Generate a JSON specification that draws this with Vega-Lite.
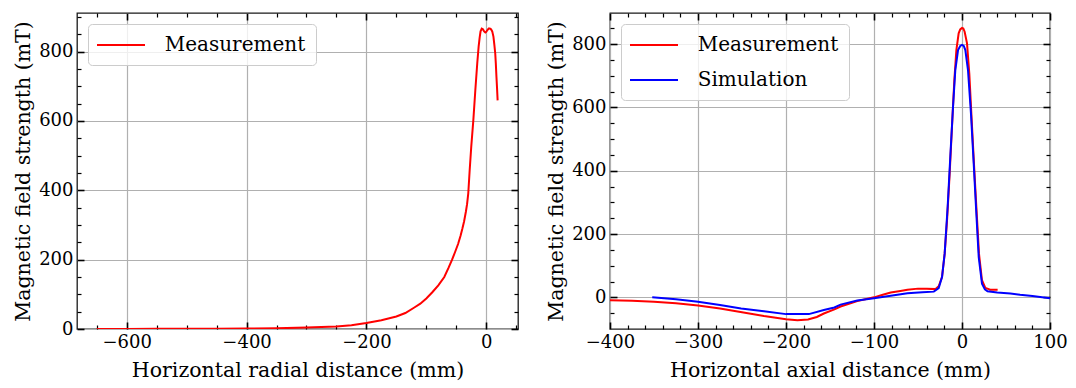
{
  "$schema": "https://vega.github.io/schema/vega-lite/v6.json",
  "padding": {"left": 12, "top": 7, "right": 26, "bottom": 0},
  "spacing": 25,
  "config": {
    "view": {"stroke": "#1a1a1a", "strokeWidth": 1.3},
    "font": "DejaVu Serif",
    "axis": {"domain": false, "labelFlush": false, "labelOverlap": false, "tickColor": "#000", "labelColor": "#000", "titleColor": "#000", "titleFontWeight": "normal", "gridColor": "#b0b0b0", "gridWidth": 1.2, "labelFont": "DejaVu Serif", "labelFontSize": 18, "titleFont": "DejaVu Serif", "titleFontSize": 20.5},
    "legend": {"title": null, "orient": "top-left", "offset": 11, "symbolType": "M-1.2,0H3.6", "symbolSize": 400, "symbolStrokeWidth": 2, "labelFont": "DejaVu Serif", "labelFontSize": 20, "labelColor": "#000", "labelOffset": 44.7, "padding": 10, "rowPadding": 14, "fillColor": "rgba(255,255,255,0.8)", "strokeColor": "#cccccc", "cornerRadius": 4, "labelLimit": 300}
  },
  "resolve": {"scale": {"color": "independent", "x": "independent", "y": "independent"}},
  "hconcat": [
    {
      "width": 441,
      "height": 316,
      "data": {"values": [
        {"x": -650, "y": 0, "series": "Measurement"},
        {"x": -600, "y": 0.3, "series": "Measurement"},
        {"x": -550, "y": 0.5, "series": "Measurement"},
        {"x": -500, "y": 0.7, "series": "Measurement"},
        {"x": -450, "y": 1, "series": "Measurement"},
        {"x": -400, "y": 1.3, "series": "Measurement"},
        {"x": -350, "y": 2.2, "series": "Measurement"},
        {"x": -300, "y": 4, "series": "Measurement"},
        {"x": -275, "y": 5.5, "series": "Measurement"},
        {"x": -250, "y": 7.5, "series": "Measurement"},
        {"x": -225, "y": 11, "series": "Measurement"},
        {"x": -200, "y": 17, "series": "Measurement"},
        {"x": -175, "y": 25, "series": "Measurement"},
        {"x": -150, "y": 36, "series": "Measurement"},
        {"x": -135, "y": 46, "series": "Measurement"},
        {"x": -120, "y": 62, "series": "Measurement"},
        {"x": -110, "y": 73, "series": "Measurement"},
        {"x": -100, "y": 88, "series": "Measurement"},
        {"x": -90, "y": 106, "series": "Measurement"},
        {"x": -80, "y": 126, "series": "Measurement"},
        {"x": -70, "y": 150, "series": "Measurement"},
        {"x": -63, "y": 176, "series": "Measurement"},
        {"x": -57, "y": 200, "series": "Measurement"},
        {"x": -52, "y": 222, "series": "Measurement"},
        {"x": -47, "y": 245, "series": "Measurement"},
        {"x": -43, "y": 268, "series": "Measurement"},
        {"x": -40, "y": 288, "series": "Measurement"},
        {"x": -37, "y": 310, "series": "Measurement"},
        {"x": -34, "y": 338, "series": "Measurement"},
        {"x": -32, "y": 360, "series": "Measurement"},
        {"x": -30, "y": 391, "series": "Measurement"},
        {"x": -27.6, "y": 459, "series": "Measurement"},
        {"x": -25, "y": 526, "series": "Measurement"},
        {"x": -21.5, "y": 603, "series": "Measurement"},
        {"x": -18.2, "y": 689, "series": "Measurement"},
        {"x": -15, "y": 766, "series": "Measurement"},
        {"x": -12.7, "y": 814, "series": "Measurement"},
        {"x": -11, "y": 840, "series": "Measurement"},
        {"x": -9.5, "y": 858, "series": "Measurement"},
        {"x": -7.5, "y": 866, "series": "Measurement"},
        {"x": -5.5, "y": 864, "series": "Measurement"},
        {"x": -3.5, "y": 858, "series": "Measurement"},
        {"x": -1.5, "y": 855, "series": "Measurement"},
        {"x": 0, "y": 857, "series": "Measurement"},
        {"x": 2, "y": 862, "series": "Measurement"},
        {"x": 4, "y": 866, "series": "Measurement"},
        {"x": 6, "y": 866, "series": "Measurement"},
        {"x": 8, "y": 864, "series": "Measurement"},
        {"x": 10, "y": 858, "series": "Measurement"},
        {"x": 12, "y": 843, "series": "Measurement"},
        {"x": 13.5, "y": 820, "series": "Measurement"},
        {"x": 15, "y": 795, "series": "Measurement"},
        {"x": 16, "y": 765, "series": "Measurement"},
        {"x": 17, "y": 728, "series": "Measurement"},
        {"x": 18, "y": 695, "series": "Measurement"},
        {"x": 19, "y": 659, "series": "Measurement"}
      ]},
      "layer": [
        {
          "mark": {"type": "line", "strokeWidth": 2, "clip": true},
          "encoding": {
            "x": {"field": "x", "type": "quantitative", "scale": {"domain": [-683, 53], "nice": false, "zero": false},
              "axis": {"orient": "bottom", "title": "Horizontal radial distance (mm)", "titlePadding": 6, "labelPadding": 11,
                "labelFont": "DejaVu Serif", "labelFontSize": 18,
                "values": [-650, -600, -550, -500, -450, -400, -350, -300, -250, -200, -150, -100, -50, 0, 50],
                "labelExpr": "datum.value % 200 === 0 ? datum.label : ''",
                "tickSize": {"condition": {"test": "datum.value % 200 === 0", "value": -7}, "value": -4},
                "tickWidth": {"condition": {"test": "datum.value % 200 === 0", "value": 1.6}, "value": 1.2},
                "grid": true,
                "gridOpacity": {"condition": {"test": "datum.value % 200 === 0", "value": 1}, "value": 0}}},
            "y": {"field": "y", "type": "quantitative", "scale": {"domain": [0, 911], "nice": false, "zero": false},
              "axis": {"orient": "left", "title": "Magnetic field strength (mT)", "titlePadding": 5, "labelPadding": 11,
                "labelFont": "DejaVu Serif", "labelFontSize": 18,
                "values": [0, 50, 100, 150, 200, 250, 300, 350, 400, 450, 500, 550, 600, 650, 700, 750, 800, 850, 900],
                "labelExpr": "datum.value % 200 === 0 ? datum.label : ''",
                "tickSize": {"condition": {"test": "datum.value % 200 === 0", "value": -7}, "value": -4},
                "tickWidth": {"condition": {"test": "datum.value % 200 === 0", "value": 1.6}, "value": 1.2},
                "grid": true,
                "gridOpacity": {"condition": {"test": "datum.value % 200 === 0", "value": 1}, "value": 0}}},
            "color": {"field": "series", "type": "nominal", "scale": {"domain": ["Measurement"], "range": ["#ff0000"]}}
          }
        },
        {
          "mark": {"type": "line", "opacity": 0},
          "encoding": {
            "x": {"field": "x", "type": "quantitative",
              "axis": {"orient": "top", "title": null, "labels": false, "grid": false,
                "values": [-650, -600, -550, -500, -450, -400, -350, -300, -250, -200, -150, -100, -50, 0, 50],
                "tickSize": {"condition": {"test": "datum.value % 200 === 0", "value": -7}, "value": -4},
                "tickWidth": {"condition": {"test": "datum.value % 200 === 0", "value": 1.6}, "value": 1.2}}},
            "y": {"field": "y", "type": "quantitative",
              "axis": {"orient": "right", "title": null, "labels": false, "grid": false,
                "values": [0, 50, 100, 150, 200, 250, 300, 350, 400, 450, 500, 550, 600, 650, 700, 750, 800, 850, 900],
                "tickSize": {"condition": {"test": "datum.value % 200 === 0", "value": -7}, "value": -4},
                "tickWidth": {"condition": {"test": "datum.value % 200 === 0", "value": 1.6}, "value": 1.2}}}
          }
        }
      ],
      "resolve": {"axis": {"x": "independent", "y": "independent"}}
    },
    {
      "width": 440,
      "height": 316,
      "data": {"values": [
        {"x": -400, "y": -9, "series": "Measurement"},
        {"x": -375, "y": -11, "series": "Measurement"},
        {"x": -350, "y": -14, "series": "Measurement"},
        {"x": -325, "y": -19, "series": "Measurement"},
        {"x": -300, "y": -26, "series": "Measurement"},
        {"x": -275, "y": -35, "series": "Measurement"},
        {"x": -250, "y": -47, "series": "Measurement"},
        {"x": -225, "y": -59, "series": "Measurement"},
        {"x": -200, "y": -69, "series": "Measurement"},
        {"x": -187, "y": -72, "series": "Measurement"},
        {"x": -175, "y": -70, "series": "Measurement"},
        {"x": -165, "y": -62, "series": "Measurement"},
        {"x": -157, "y": -51, "series": "Measurement"},
        {"x": -145, "y": -38, "series": "Measurement"},
        {"x": -138, "y": -29, "series": "Measurement"},
        {"x": -125, "y": -17, "series": "Measurement"},
        {"x": -119, "y": -12, "series": "Measurement"},
        {"x": -110, "y": -6, "series": "Measurement"},
        {"x": -100, "y": 0, "series": "Measurement"},
        {"x": -90, "y": 8, "series": "Measurement"},
        {"x": -81, "y": 15, "series": "Measurement"},
        {"x": -70, "y": 20, "series": "Measurement"},
        {"x": -62, "y": 24, "series": "Measurement"},
        {"x": -50, "y": 27.5, "series": "Measurement"},
        {"x": -40, "y": 27.5, "series": "Measurement"},
        {"x": -30, "y": 26, "series": "Measurement"},
        {"x": -26.5, "y": 35, "series": "Measurement"},
        {"x": -22.7, "y": 64, "series": "Measurement"},
        {"x": -19.7, "y": 138, "series": "Measurement"},
        {"x": -17, "y": 243, "series": "Measurement"},
        {"x": -14, "y": 391, "series": "Measurement"},
        {"x": -11.4, "y": 538, "series": "Measurement"},
        {"x": -8.7, "y": 686, "series": "Measurement"},
        {"x": -6.4, "y": 781, "series": "Measurement"},
        {"x": -3.8, "y": 834, "series": "Measurement"},
        {"x": -2, "y": 846, "series": "Measurement"},
        {"x": 0, "y": 851, "series": "Measurement"},
        {"x": 1.5, "y": 849, "series": "Measurement"},
        {"x": 3, "y": 839, "series": "Measurement"},
        {"x": 5.7, "y": 802, "series": "Measurement"},
        {"x": 8.3, "y": 707, "series": "Measurement"},
        {"x": 11, "y": 560, "series": "Measurement"},
        {"x": 14, "y": 401, "series": "Measurement"},
        {"x": 16.3, "y": 286, "series": "Measurement"},
        {"x": 19.3, "y": 138, "series": "Measurement"},
        {"x": 22.7, "y": 54, "series": "Measurement"},
        {"x": 26.5, "y": 30, "series": "Measurement"},
        {"x": 32, "y": 24, "series": "Measurement"},
        {"x": 40.5, "y": 24, "series": "Measurement"},
        {"x": -352, "y": 0, "series": "Simulation"},
        {"x": -325, "y": -6, "series": "Simulation"},
        {"x": -300, "y": -14, "series": "Simulation"},
        {"x": -275, "y": -24, "series": "Simulation"},
        {"x": -251, "y": -35, "series": "Simulation"},
        {"x": -225, "y": -44, "series": "Simulation"},
        {"x": -200, "y": -53, "series": "Simulation"},
        {"x": -174, "y": -53, "series": "Simulation"},
        {"x": -157, "y": -40, "series": "Simulation"},
        {"x": -145, "y": -32, "series": "Simulation"},
        {"x": -138, "y": -23, "series": "Simulation"},
        {"x": -119, "y": -10, "series": "Simulation"},
        {"x": -100, "y": -3, "series": "Simulation"},
        {"x": -81, "y": 5, "series": "Simulation"},
        {"x": -62, "y": 13, "series": "Simulation"},
        {"x": -45, "y": 16, "series": "Simulation"},
        {"x": -32, "y": 18, "series": "Simulation"},
        {"x": -26.5, "y": 29, "series": "Simulation"},
        {"x": -22.7, "y": 64, "series": "Simulation"},
        {"x": -19.7, "y": 138, "series": "Simulation"},
        {"x": -16.3, "y": 286, "series": "Simulation"},
        {"x": -13.3, "y": 444, "series": "Simulation"},
        {"x": -10.2, "y": 602, "series": "Simulation"},
        {"x": -7.6, "y": 718, "series": "Simulation"},
        {"x": -4.5, "y": 781, "series": "Simulation"},
        {"x": -2, "y": 794, "series": "Simulation"},
        {"x": 0, "y": 797, "series": "Simulation"},
        {"x": 2, "y": 794, "series": "Simulation"},
        {"x": 3.8, "y": 781, "series": "Simulation"},
        {"x": 6.8, "y": 718, "series": "Simulation"},
        {"x": 10.2, "y": 580, "series": "Simulation"},
        {"x": 13.3, "y": 423, "series": "Simulation"},
        {"x": 16.3, "y": 264, "series": "Simulation"},
        {"x": 19, "y": 127, "series": "Simulation"},
        {"x": 22.7, "y": 43, "series": "Simulation"},
        {"x": 26, "y": 25, "series": "Simulation"},
        {"x": 29, "y": 19, "series": "Simulation"},
        {"x": 40, "y": 15, "series": "Simulation"},
        {"x": 55, "y": 12, "series": "Simulation"},
        {"x": 66, "y": 8, "series": "Simulation"},
        {"x": 80, "y": 4, "series": "Simulation"},
        {"x": 100, "y": -3, "series": "Simulation"}
      ]},
      "layer": [
        {
          "mark": {"type": "line", "strokeWidth": 2, "clip": true},
          "encoding": {
            "x": {"field": "x", "type": "quantitative", "scale": {"domain": [-400, 100], "nice": false, "zero": false},
              "axis": {"orient": "bottom", "title": "Horizontal axial distance (mm)", "titlePadding": 6, "labelPadding": 11,
                "labelFont": "DejaVu Serif", "labelFontSize": 18,
                "values": [-400, -380, -360, -340, -320, -300, -280, -260, -240, -220, -200, -180, -160, -140, -120, -100, -80, -60, -40, -20, 0, 20, 40, 60, 80, 100],
                "labelExpr": "datum.value % 100 === 0 ? datum.label : ''",
                "tickSize": {"condition": {"test": "datum.value % 100 === 0", "value": -7}, "value": -4},
                "tickWidth": {"condition": {"test": "datum.value % 100 === 0", "value": 1.6}, "value": 1.2},
                "grid": true,
                "gridOpacity": {"condition": {"test": "datum.value % 100 === 0", "value": 1}, "value": 0}}},
            "y": {"field": "y", "type": "quantitative", "scale": {"domain": [-100, 898], "nice": false, "zero": false},
              "axis": {"orient": "left", "title": "Magnetic field strength (mT)", "titlePadding": 5, "labelPadding": 11,
                "labelFont": "DejaVu Serif", "labelFontSize": 18,
                "values": [-50, 0, 50, 100, 150, 200, 250, 300, 350, 400, 450, 500, 550, 600, 650, 700, 750, 800, 850],
                "labelExpr": "datum.value % 200 === 0 ? datum.label : ''",
                "tickSize": {"condition": {"test": "datum.value % 200 === 0", "value": -7}, "value": -4},
                "tickWidth": {"condition": {"test": "datum.value % 200 === 0", "value": 1.6}, "value": 1.2},
                "grid": true,
                "gridOpacity": {"condition": {"test": "datum.value % 200 === 0", "value": 1}, "value": 0}}},
            "color": {"field": "series", "type": "nominal", "scale": {"domain": ["Measurement", "Simulation"], "range": ["#ff0000", "#0000ff"]}}
          }
        },
        {
          "mark": {"type": "line", "opacity": 0},
          "encoding": {
            "x": {"field": "x", "type": "quantitative",
              "axis": {"orient": "top", "title": null, "labels": false, "grid": false,
                "values": [-400, -380, -360, -340, -320, -300, -280, -260, -240, -220, -200, -180, -160, -140, -120, -100, -80, -60, -40, -20, 0, 20, 40, 60, 80, 100],
                "tickSize": {"condition": {"test": "datum.value % 100 === 0", "value": -7}, "value": -4},
                "tickWidth": {"condition": {"test": "datum.value % 100 === 0", "value": 1.6}, "value": 1.2}}},
            "y": {"field": "y", "type": "quantitative",
              "axis": {"orient": "right", "title": null, "labels": false, "grid": false,
                "values": [-50, 0, 50, 100, 150, 200, 250, 300, 350, 400, 450, 500, 550, 600, 650, 700, 750, 800, 850],
                "tickSize": {"condition": {"test": "datum.value % 200 === 0", "value": -7}, "value": -4},
                "tickWidth": {"condition": {"test": "datum.value % 200 === 0", "value": 1.6}, "value": 1.2}}}
          }
        }
      ],
      "resolve": {"axis": {"x": "independent", "y": "independent"}}
    }
  ]
}
